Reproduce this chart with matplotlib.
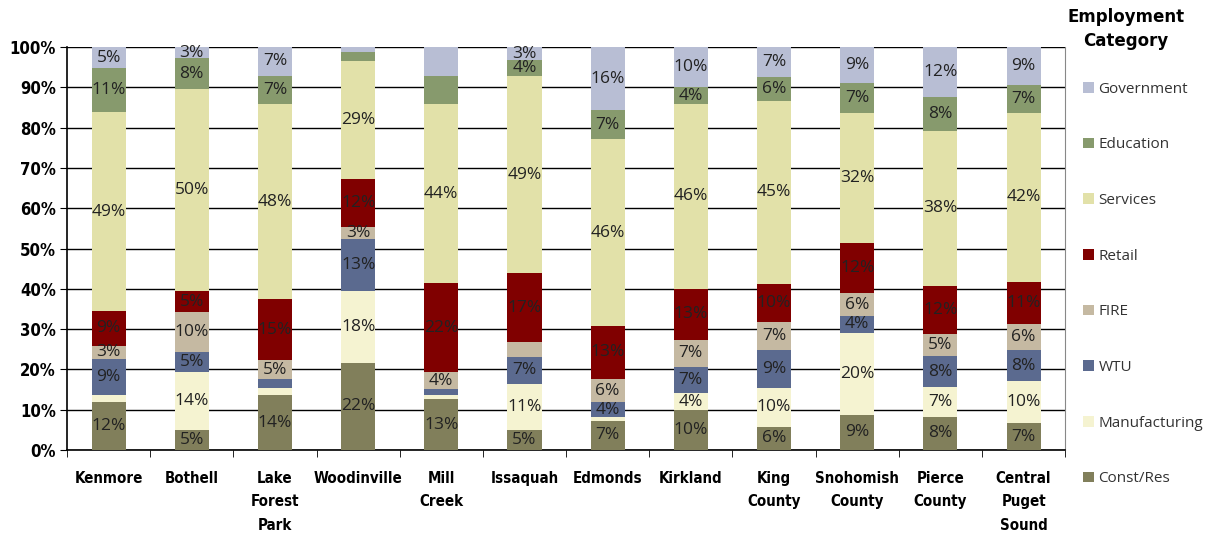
import matplotlib
matplotlib.use("Agg")
from matplotlib import pyplot as plt
import numpy as np

# areas along the x axis
areas = ["Kenmore", "Bothell", "Lake\nForest\nPark", "Woodinville", "Mill\nCreek",
         "Issaquah", "Edmonds", "Kirkland", "King\nCounty", "Snohomish\nCounty",
         "Pierce\nCounty", "Central\nPuget\nSound"]

# share of employment (%) per category, bottom to top
const_res     = [12.0, 5.0, 13.6, 21.6, 12.6, 5.0, 7.2, 9.9, 5.7, 8.7, 8.2, 6.6]
manufacturing = [1.6, 14.3, 1.7, 17.9, 1.0, 11.4, 1.0, 4.2, 9.7, 20.4, 7.4, 10.4]
wtu           = [9.0, 5.0, 2.3, 12.8, 1.5, 6.7, 3.6, 6.6, 9.4, 4.2, 7.7, 7.9]
fire          = [3.3, 9.9, 4.7, 3.0, 4.2, 3.7, 5.9, 6.7, 6.9, 5.6, 5.4, 6.3]
retail        = [8.6, 5.2, 15.1, 11.9, 22.1, 17.1, 13.1, 12.6, 9.6, 12.4, 12.1, 10.6]
services      = [49.3, 50.1, 48.4, 29.3, 44.4, 48.9, 46.3, 45.9, 45.3, 32.3, 38.4, 41.9]
education     = [11.0, 7.8, 7.1, 2.2, 7.1, 3.9, 7.2, 4.1, 6.0, 7.4, 8.4, 7.0]
government    = [5.2, 2.7, 7.1, 1.3, 7.1, 3.3, 15.7, 10.0, 7.4, 9.0, 12.4, 9.3]

categories = ["Const/Res", "Manufacturing", "WTU", "FIRE", "Retail",
              "Services", "Education", "Government"]
series = [const_res, manufacturing, wtu, fire, retail, services, education, government]
colors = ["#817F5B", "#F5F3D1", "#5B6A8F", "#C5B9A2", "#800000",
          "#E2E1A9", "#879A6D", "#B8BED4"]

# segments that carry no label in the original
unlabeled = {("Woodinville", "Education"), ("Woodinville", "Government"),
             ("Mill\nCreek", "Education"), ("Mill\nCreek", "Government"),
             ("Issaquah", "FIRE")}

fig = plt.figure(figsize=(12.07, 5.35), dpi=100)
ax = fig.add_axes([0.0555, 0.159, 0.827, 0.753])

x = np.arange(len(areas))
bottom = np.zeros(len(areas))
for name, vals, col in zip(categories, series, colors):
    vals = np.array(vals)
    ax.bar(x, vals, 0.41, bottom=bottom, color=col, label=name, zorder=3)
    for i, v in enumerate(vals):
        if v < 2.5 or (areas[i], name) in unlabeled:
            continue
        ax.text(x[i], bottom[i] + v / 2, f"{v:.0f}%", ha="center", va="center",
                fontsize=12.5, color="#222222", family="Open Sans", zorder=4)
    bottom += vals

ax.set_xlim(-0.5, len(areas) - 0.5)
ax.set_ylim(0, 100)
ax.set_yticks(np.arange(0, 101, 10))
ax.set_yticklabels([f"{t}%" for t in range(0, 101, 10)], fontsize=12, fontweight="bold",
                   fontstretch="condensed")
ax.yaxis.grid(True, color="black", linewidth=1, zorder=0)

ax.set_xticks(x)
ax.set_xticklabels(areas, fontsize=10.8, fontweight="bold", fontstretch="condensed",
                   linespacing=1.72, va="top")
ax.tick_params(axis="x", length=0, pad=15)
ax.set_xticks(np.arange(-0.5, len(areas)), minor=True)
ax.tick_params(axis="x", which="minor", length=5, direction="out")
ax.tick_params(axis="y", length=5, direction="out", pad=3)

ax.spines["top"].set_visible(False)
ax.spines["right"].set_color("#888888")
ax.spines["left"].set_linewidth(1.2)
ax.spines["bottom"].set_linewidth(1.2)

handles, labels = ax.get_legend_handles_labels()
leg = ax.legend(handles[::-1], labels[::-1], loc="upper left", bbox_to_anchor=(1.012, 0.929),
                frameon=False, fontsize=11, handlelength=0.7, handleheight=0.7,
                handletextpad=0.3, labelspacing=2.66, borderaxespad=0)
for t in leg.get_texts():
    t.set_family("Open Sans")
    t.set_color("#333333")

fig.text(0.933, 0.946, "Employment\nCategory", ha="center", va="center",
         fontsize=12, fontweight="bold", linespacing=1.45)

fig.savefig("out.png", dpi=100)
